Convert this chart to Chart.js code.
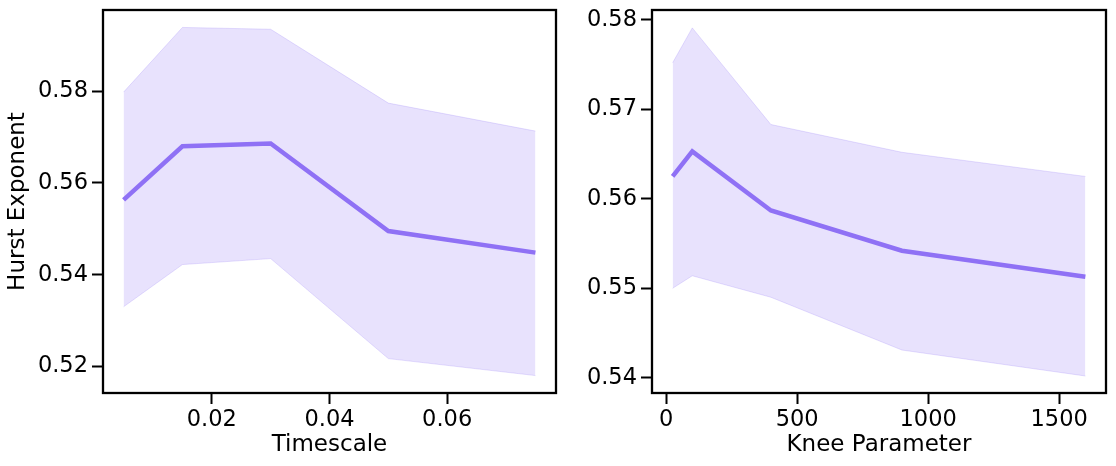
<!DOCTYPE html>
<html>
<head>
<meta charset="utf-8">
<script src="https://cdn.jsdelivr.net/npm/chart.js@4"></script>
<style>
  body { margin: 0; background: #fff; }
  .panel { position: absolute; top: 0; }
</style>
</head>
<body>
<canvas id="leftChart" class="panel" width="560" height="466" style="left:0"></canvas>
<canvas id="rightChart" class="panel" width="556" height="466" style="left:560px"></canvas>
<script>
// Left panel: Hurst exponent vs timescale
const timescales = [0.005, 0.015, 0.03, 0.05, 0.075];
const hurstByTimescale = [0.5563, 0.5680, 0.5686, 0.5495, 0.5448];
const upperByTimescale = [0.5798, 0.5939, 0.5935, 0.5774, 0.5713];
const lowerByTimescale = [0.5330, 0.5422, 0.5435, 0.5217, 0.5180];
const timescaleTicks = [0.02, 0.04, 0.06];
const hurstTicksLeft = [0.52, 0.54, 0.56, 0.58];

// Right panel: Hurst exponent vs knee parameter
const kneeParams = [25, 100, 400, 900, 1600];
const hurstByKnee = [0.5625, 0.5653, 0.5587, 0.5542, 0.5513];
const upperByKnee = [0.5752, 0.5791, 0.5683, 0.5652, 0.5625];
const lowerByKnee = [0.5500, 0.5514, 0.5490, 0.5431, 0.5402];
const kneeTicks = [0, 500, 1000, 1500];
const hurstTicksRight = [0.54, 0.55, 0.56, 0.57, 0.58];

const lineColor = "#8f71f5";
const bandColor = "rgba(140, 112, 246, 0.2)";
const bandEdge = "rgba(140, 112, 246, 0.22)";
const fontFamily = "'DejaVu Sans', sans-serif";

function toPoints(xs, ys) {
    return xs.map((x, i) => ({ x: x, y: ys[i] }));
}

// box around the plot area, like matplotlib spines
const framePlugin = {
    id: "frame",
    afterDraw(chart) {
        const a = chart.chartArea;
        const ctx = chart.ctx;
        ctx.save();
        ctx.strokeStyle = "#000";
        ctx.lineWidth = 2.3;
        ctx.strokeRect(a.left, a.top, a.right - a.left, a.bottom - a.top);
        ctx.restore();
    }
};

function makeChart(id, xs, mean, upper, lower, opts) {
    const ctx = document.getElementById(id).getContext("2d");
    return new Chart(ctx, {
        type: "line",
        data: {
            datasets: [{
                data: toPoints(xs, mean),
                borderColor: lineColor,
                borderWidth: 4.5,
                pointRadius: 0,
                fill: false
            }, {
                data: toPoints(xs, upper),
                borderColor: bandEdge,
                borderWidth: 1,
                pointRadius: 0,
                backgroundColor: bandColor,
                fill: "+1"
            }, {
                data: toPoints(xs, lower),
                borderColor: bandEdge,
                borderWidth: 1,
                pointRadius: 0,
                fill: false
            }]
        },
        options: {
            responsive: false,
            animation: false,
            events: [],
            layout: { padding: { top: 10, right: opts.padRight, left: 0, bottom: 0 } },
            plugins: { legend: { display: false }, tooltip: { enabled: false } },
            scales: {
                x: {
                    type: "linear",
                    min: opts.xMin,
                    max: opts.xMax,
                    afterBuildTicks: s => { s.ticks = opts.xTicks.map(v => ({ value: v })); },
                    afterFit: s => { s.height = 73; s.paddingLeft = 0; s.paddingRight = 0; },
                    ticks: {
                        color: "#000",
                        padding: 3,
                        maxRotation: 0,
                        font: { family: fontFamily, size: 22.5 },
                        callback: opts.xFormat
                    },
                    grid: { drawOnChartArea: false, drawTicks: true, tickLength: 11, tickWidth: 2, color: "#000" },
                    border: { display: false },
                    title: {
                        display: true,
                        text: opts.xTitle,
                        color: "#000",
                        font: { family: fontFamily, size: 23 },
                        padding: { top: 0, bottom: 7 }
                    }
                },
                y: {
                    type: "linear",
                    min: opts.yMin,
                    max: opts.yMax,
                    afterBuildTicks: s => { s.ticks = opts.yTicks.map(v => ({ value: v })); },
                    afterFit: s => { s.width = opts.yWidth; s.paddingTop = 0; s.paddingBottom = 0; },
                    ticks: {
                        color: "#000",
                        padding: 4,
                        font: { family: fontFamily, size: 22.5 },
                        callback: v => v.toFixed(2)
                    },
                    grid: { drawOnChartArea: false, drawTicks: true, tickLength: 11, tickWidth: 2, color: "#000" },
                    border: { display: false },
                    title: {
                        display: opts.yTitle !== "",
                        text: opts.yTitle,
                        color: "#000",
                        font: { family: fontFamily, size: 23 },
                        padding: { top: 4, bottom: 0 }
                    }
                }
            }
        },
        plugins: [framePlugin]
    });
}

makeChart("leftChart", timescales, hurstByTimescale, upperByTimescale, lowerByTimescale, {
    xMin: 0.0015, xMax: 0.0785, yMin: 0.5142, yMax: 0.5977,
    xTicks: timescaleTicks, yTicks: hurstTicksLeft,
    xFormat: v => v.toFixed(2),
    xTitle: "Timescale", yTitle: "Hurst Exponent",
    yWidth: 103, padRight: 4
});

makeChart("rightChart", kneeParams, hurstByKnee, upperByKnee, lowerByKnee, {
    xMin: -53.75, xMax: 1678.75, yMin: 0.5383, yMax: 0.5811,
    xTicks: kneeTicks, yTicks: hurstTicksRight,
    xFormat: v => String(v),
    xTitle: "Knee Parameter", yTitle: "",
    yWidth: 92, padRight: 10
});
</script>
</body>
</html>
